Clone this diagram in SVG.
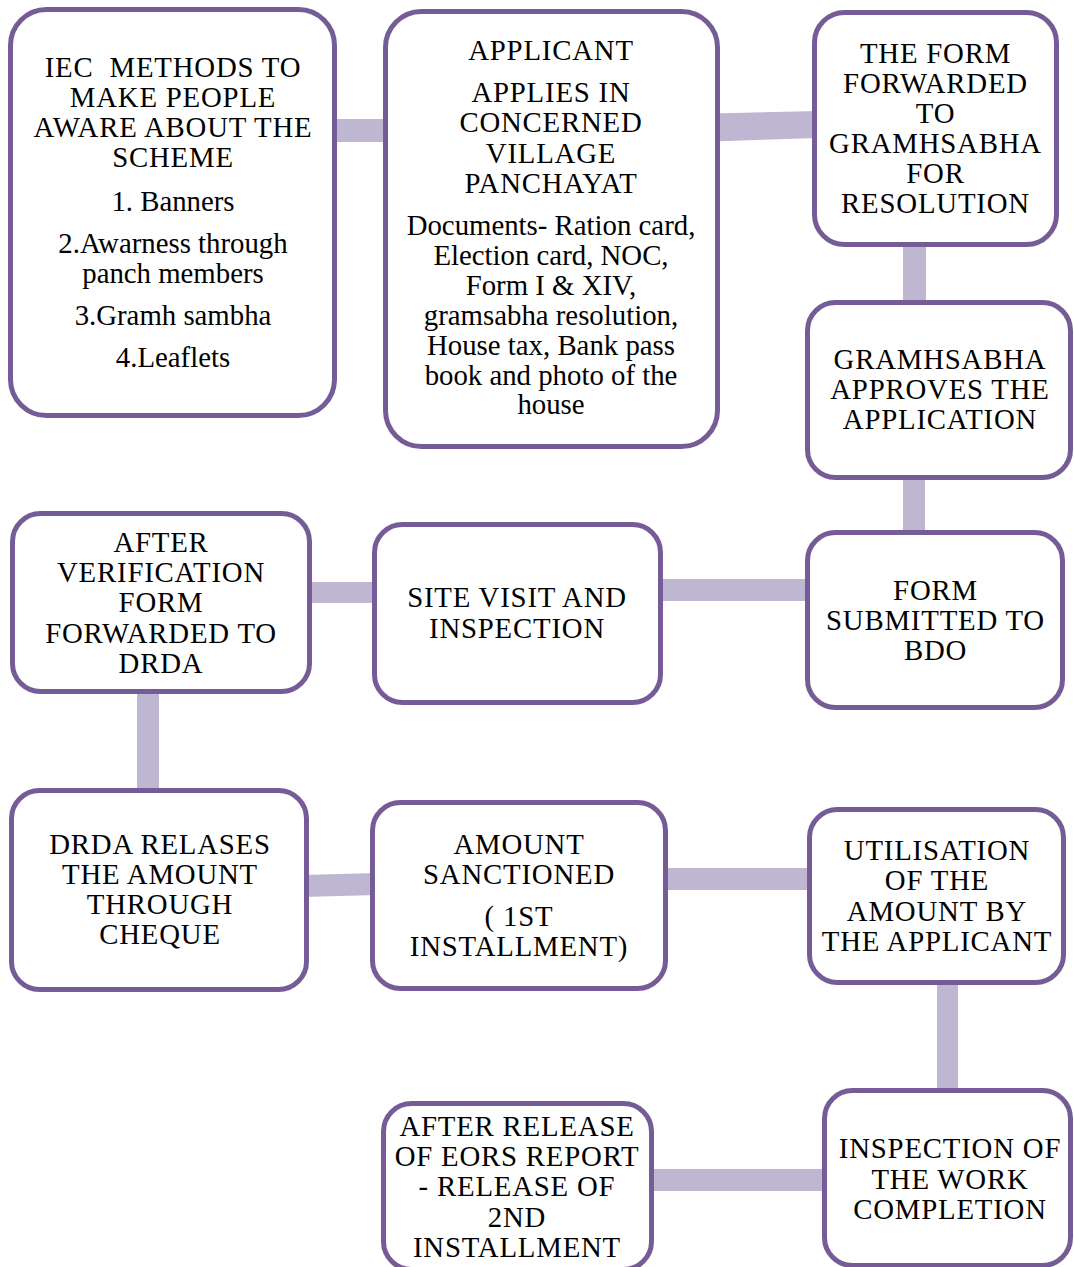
<svg xmlns="http://www.w3.org/2000/svg" width="1074" height="1267" viewBox="0 0 1074 1267">
<style>
.box{fill:#ffffff;stroke:#765c97;stroke-width:5}
.bar{fill:#bfb6d1}
text{font-family:"Liberation Serif","Times New Roman",serif;font-size:28.8px;fill:#000;text-anchor:middle}
.u text{letter-spacing:0.8px}
.pre{white-space:pre}
</style>
<rect width="1074" height="1267" fill="#ffffff"/>
<g id="connectors">
<rect class="bar" x="330" y="119" width="60" height="23"/>
<polygon class="bar" points="712,113.5 818,111 818,138 712,141.5"/>
<rect class="bar" x="903" y="240" width="23" height="66"/>
<rect class="bar" x="903" y="474" width="22" height="62"/>
<rect class="bar" x="656" y="579" width="155" height="22"/>
<rect class="bar" x="305" y="582" width="73" height="21"/>
<rect class="bar" x="137" y="688" width="22" height="106"/>
<polygon class="bar" points="302,875 377,873 377,895 302,897"/>
<rect class="bar" x="661" y="868" width="152" height="22"/>
<rect class="bar" x="937" y="978" width="21" height="116"/>
<rect class="bar" x="647" y="1169" width="181" height="22"/>
</g>
<g id="n1">
<rect class="box" x="10.5" y="9.5" width="324" height="406" rx="36"/>
<g class="u">
<text x="173" y="77" class="pre">IEC  METHODS TO</text>
<text x="173" y="107">MAKE PEOPLE</text>
<text x="173" y="137">AWARE ABOUT THE</text>
<text x="173" y="167">SCHEME</text>
</g>
<text x="173" y="211">1. Banners</text>
<text x="173" y="253">2.Awarness through</text>
<text x="173" y="283">panch members</text>
<text x="173" y="325">3.Gramh sambha</text>
<text x="173" y="367">4.Leaflets</text>
</g>
<g id="n2">
<rect class="box" x="385.5" y="11.5" width="332" height="435" rx="36"/>
<g class="u">
<text x="551" y="60">APPLICANT</text>
<text x="551" y="102">APPLIES IN</text>
<text x="551" y="132">CONCERNED</text>
<text x="551" y="163">VILLAGE</text>
<text x="551" y="193">PANCHAYAT</text>
</g>
<text x="551" y="235">Documents- Ration card,</text>
<text x="551" y="265">Election card, NOC,</text>
<text x="551" y="295">Form I &amp; XIV,</text>
<text x="551" y="325">gramsabha resolution,</text>
<text x="551" y="355">House tax, Bank pass</text>
<text x="551" y="385">book and photo of the</text>
<text x="551" y="414">house</text>
</g>
<g id="n3" class="u">
<rect class="box" x="814.5" y="12.5" width="242" height="232" rx="30"/>
<text x="935.5" y="62.5">THE FORM</text>
<text x="935.5" y="92.5">FORWARDED</text>
<text x="935.5" y="122.5">TO</text>
<text x="935.5" y="152.5">GRAMHSABHA</text>
<text x="935.5" y="182.5">FOR</text>
<text x="935.5" y="213">RESOLUTION</text>
</g>
<g id="n4" class="u">
<rect class="box" x="807.5" y="302.5" width="263" height="175" rx="28"/>
<text x="940" y="369">GRAMHSABHA</text>
<text x="940" y="399">APPROVES THE</text>
<text x="940" y="429">APPLICATION</text>
</g>
<g id="n5" class="u">
<rect class="box" x="807.5" y="532.5" width="255" height="175" rx="28"/>
<text x="935.5" y="600">FORM</text>
<text x="935.5" y="630">SUBMITTED TO</text>
<text x="935.5" y="660">BDO</text>
</g>
<g id="n6" class="u">
<rect class="box" x="374.5" y="524.5" width="286" height="178" rx="28"/>
<text x="517" y="607">SITE VISIT AND</text>
<text x="517" y="638">INSPECTION</text>
</g>
<g id="n7" class="u">
<rect class="box" x="12.5" y="513.5" width="297" height="178" rx="28"/>
<text x="161" y="552">AFTER</text>
<text x="161" y="582">VERIFICATION</text>
<text x="161" y="612">FORM</text>
<text x="161" y="643">FORWARDED TO</text>
<text x="161" y="673">DRDA</text>
</g>
<g id="n8" class="u">
<rect class="box" x="11.5" y="790.5" width="295" height="199" rx="28"/>
<text x="160" y="854">DRDA RELASES</text>
<text x="160" y="884">THE AMOUNT</text>
<text x="160" y="914">THROUGH</text>
<text x="160" y="944">CHEQUE</text>
</g>
<g id="n9" class="u">
<rect class="box" x="372.5" y="802.5" width="293" height="186" rx="28"/>
<text x="519" y="854">AMOUNT</text>
<text x="519" y="884">SANCTIONED</text>
<text x="519" y="926" class="pre">( 1ST</text>
<text x="519" y="956">INSTALLMENT)</text>
</g>
<g id="n10" class="u">
<rect class="box" x="809.5" y="809.5" width="254" height="173" rx="28"/>
<text x="937" y="860">UTILISATION</text>
<text x="937" y="890">OF THE</text>
<text x="937" y="921">AMOUNT BY</text>
<text x="937" y="951">THE APPLICANT</text>
</g>
<g id="n11" class="u">
<rect class="box" x="824.5" y="1090.5" width="246" height="175" rx="28"/>
<text x="950" y="1158">INSPECTION OF</text>
<text x="950" y="1189">THE WORK</text>
<text x="950" y="1219">COMPLETION</text>
</g>
<g id="n12" class="u">
<rect class="box" x="383.5" y="1103.5" width="268" height="166" rx="28"/>
<text x="517" y="1136">AFTER RELEASE</text>
<text x="517" y="1166">OF EORS REPORT</text>
<text x="517" y="1196">- RELEASE OF</text>
<text x="517" y="1227">2ND</text>
<text x="517" y="1257">INSTALLMENT</text>
</g>
</svg>
